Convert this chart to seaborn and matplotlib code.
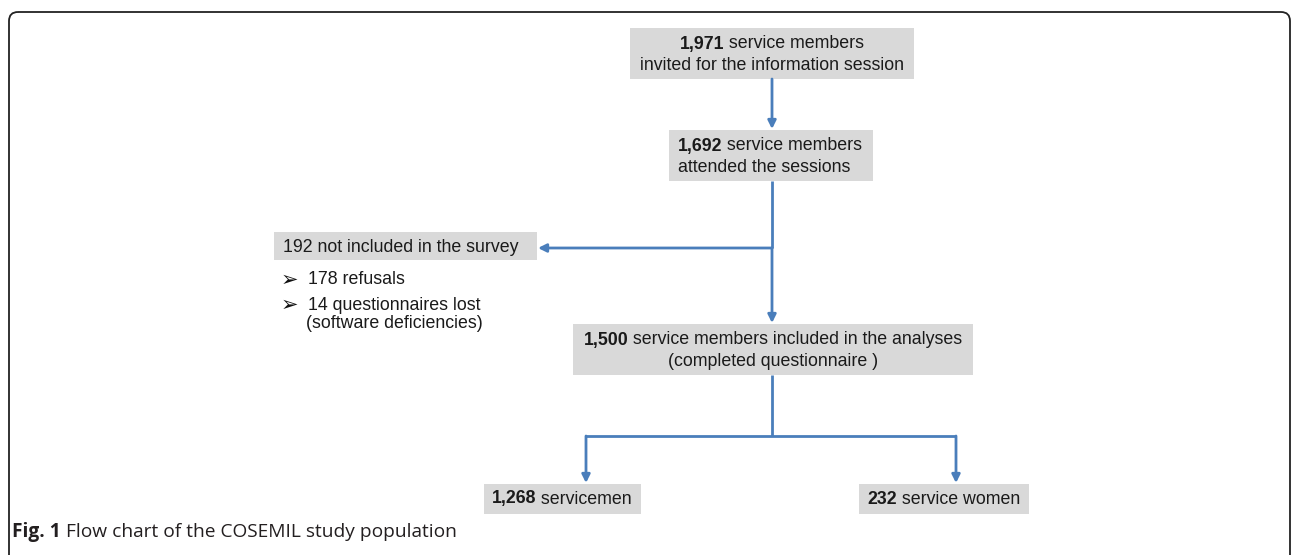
import seaborn as sns
import matplotlib.pyplot as plt
from matplotlib.patches import FancyBboxPatch, Rectangle

# flow chart content
counts = ["1,971", "1,692", "1,500", "1,268", "232"]
first_lines = [" service members", " service members",
               " service members included in the analyses",
               " servicemen", " service women"]
second_lines = ["invited for the information session", "attended the sessions",
                "(completed questionnaire )", None, None]
excluded_title = "192 not included in the survey"
excluded_items = ["178 refusals", "14 questionnaires lost", "(software deficiencies)"]
caption_bold = "Fig. 1"
caption_text = " Flow chart of the COSEMIL study population"

sns.set_theme(style="white")
plt.rcParams['font.family'] = ['Liberation Sans', 'DejaVu Sans']

BOX = "#d9d9d9"
ARROW = "#4a7ebb"
TXT = "#1a1a1a"
FS = 12.75

fig = plt.figure(figsize=(12.92, 5.55), dpi=100)
ax = fig.add_axes([0, 0, 1, 1])
ax.set_xlim(0, 1292)
ax.set_ylim(555, 0)
ax.axis("off")
renderer = fig.canvas.get_renderer()


def width_of(s, **kw):
    t = ax.text(0, 0, s, **kw)
    w = t.get_window_extent(renderer).width
    t.remove()
    return w


def rich_line(x, y, parts, ha="center", size=FS, family=None, color=TXT):
    kw = dict(fontsize=size, va="center", ha="left", color=color)
    if family:
        kw["family"] = family
    widths = [width_of(s, fontweight=w, **kw) for s, w in parts]
    x0 = x - sum(widths) / 2 if ha == "center" else x
    for (s, w), wd in zip(parts, widths):
        ax.text(x0, y, s, fontweight=w, **kw)
        x0 += wd


def box(x0, y0, x1, y1):
    ax.add_patch(Rectangle((x0, y0), x1 - x0, y1 - y0, facecolor=BOX,
                           edgecolor="none", zorder=1))


def arrow(x0, y0, x1, y1):
    ax.annotate("", xy=(x1, y1), xytext=(x0, y0),
                arrowprops=dict(arrowstyle="-|>", color=ARROW, lw=2,
                                mutation_scale=12, shrinkA=0, shrinkB=0))


def line(xs, ys):
    ax.plot(xs, ys, color=ARROW, lw=2, solid_capstyle="butt")


# outer frame
ax.add_patch(FancyBboxPatch((9, 12), 1281, 600,
                            boxstyle="round,pad=0,rounding_size=9",
                            facecolor="none", edgecolor="#222222", lw=1.3,
                            clip_on=False))

# boxes: (x0, y0, x1, y1, text x, alignment)
boxes = [(630, 28, 914, 79, 772, "center"),
         (669, 130, 873, 181, 678, "left"),
         (573, 324, 973, 375, 773, "center"),
         (484, 484, 641, 514, 562, "center"),
         (859, 484, 1029, 514, 944, "center")]

for i, (x0, y0, x1, y1, tx, ha) in enumerate(boxes):
    box(x0, y0, x1, y1)
    if second_lines[i] is None:
        rich_line(tx, (y0 + y1) / 2, [(counts[i], "bold"), (first_lines[i], "normal")], ha=ha)
    else:
        rich_line(tx, y0 + 16, [(counts[i], "bold"), (first_lines[i], "normal")], ha=ha)
        rich_line(tx, y0 + 37, [(second_lines[i], "normal")], ha=ha)

# excluded box and its breakdown
box(274, 232, 537, 260)
ax.text(283, 247, excluded_title, fontsize=FS, va="center", color=TXT)
for yy in [280, 305]:
    ax.text(281, yy, "\u27a2", fontsize=15, va="center", color="#111111",
            family=["DejaVu Sans"])
ax.text(308, 280, excluded_items[0], fontsize=FS, va="center", color=TXT)
ax.text(308, 305, excluded_items[1], fontsize=FS, va="center", color=TXT)
ax.text(306, 323, excluded_items[2], fontsize=FS, va="center", color=TXT)

# connectors
cx = 772
arrow(cx, 79, cx, 129)
line([cx, cx], [181, 248])
arrow(cx, 248, 538, 248)
arrow(cx, 248, cx, 323)
line([cx, cx], [375, 436])
line([586, 956], [436, 436])
arrow(586, 436, 586, 483)
arrow(956, 436, 956, 483)

# caption
rich_line(12, 532, [(caption_bold, "bold"), (caption_text, "normal")], ha="left",
          size=13.8, family=["Open Sans", "DejaVu Sans"], color="#231f20")

fig.savefig("out.png", dpi=100)
